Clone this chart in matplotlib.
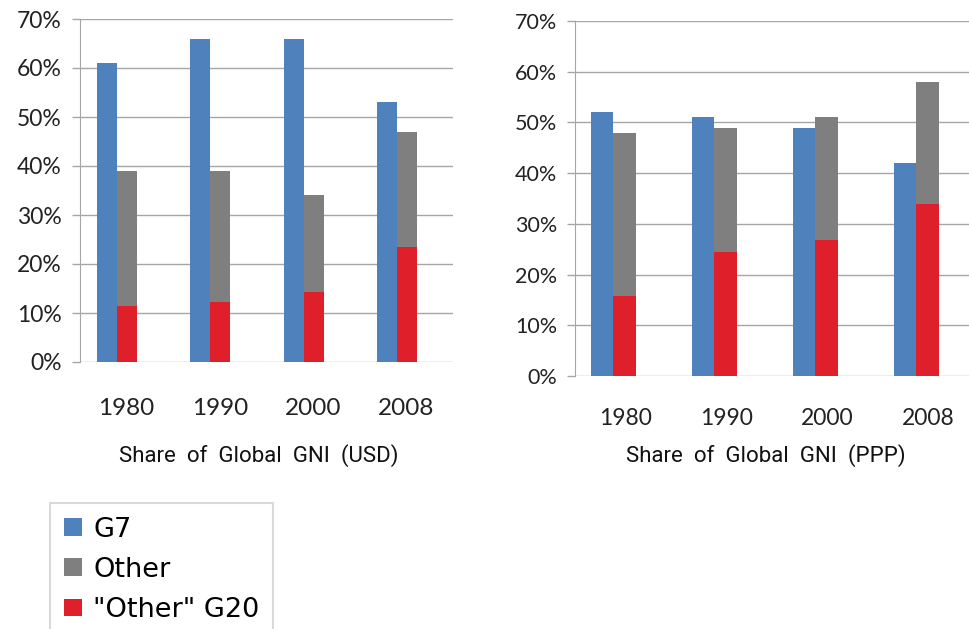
import numpy as np
import matplotlib.pyplot as plt
from matplotlib.ticker import PercentFormatter

years = ["1980", "1990", "2000", "2008"]
series_names = ["G7", "Other", "\"Other\" G20"]

usd_g7 = [61, 66, 66, 53]
usd_other = [39, 39, 34, 47]
usd_g20 = [11.4, 12.2, 14.2, 23.5]

ppp_g7 = [52, 51, 49, 42]
ppp_other = [48, 49, 51, 58]
ppp_g20 = [15.8, 24.5, 26.9, 33.9]

c_blue = "#4f81bd"
c_gray = "#7f7f7f"
c_red = "#df1f29"
grid_c = "#a6a6a6"

fig = plt.figure(figsize=(9.70, 6.29), dpi=100)
ax1 = fig.add_axes([80 / 970, 1 - 362 / 629, 373 / 970, 343 / 629])
ax2 = fig.add_axes([575 / 970, 1 - 376 / 629, 404 / 970, 355 / 629])


def draw(ax, g7, other, g20, off, w, xmax, yfs, xfs, pad):
    x = np.arange(len(years))
    b1 = ax.bar(x + off, g7, w, align="edge", color=c_blue, zorder=3)
    b2 = ax.bar(x + off + w, other, w, align="edge", color=c_gray, zorder=3)
    b3 = ax.bar(x + off + w, g20, w, align="edge", color=c_red, zorder=4)
    ax.set_xlim(0, xmax)
    ax.set_ylim(0, 70)
    ax.set_yticks(np.arange(0, 71, 10))
    ax.yaxis.set_major_formatter(PercentFormatter(decimals=0))
    ax.set_xticks(x + 0.5)
    ax.set_xticklabels(years, family="Lato", fontsize=xfs, color="#222222")
    ax.tick_params(axis="x", length=0, pad=pad)
    ax.tick_params(axis="y", length=6, width=1, color=grid_c, pad=7,
                   labelsize=yfs, labelcolor="#222222")
    for t in ax.get_yticklabels():
        t.set_family("Lato")
    ax.grid(axis="y", color=grid_c, linewidth=1, zorder=0)
    for s in ["top", "right", "bottom"]:
        ax.spines[s].set_visible(False)
    ax.spines["left"].set_color(grid_c)
    return b1, b2, b3


bars = draw(ax1, usd_g7, usd_other, usd_g20, 0.183, 0.215, 4.0, 16.5, 17.5, 26)
draw(ax2, ppp_g7, ppp_other, ppp_g20, 0.158, 0.222, 4.0, 15.5, 16.5, 23)

fig.text(259 / 970, 1 - 456 / 629, "Share  of  Global  GNI  (USD)",
         family="Roboto", fontsize=16, ha="center", va="center", color="#111111")
fig.text(766 / 970, 1 - 456 / 629, "Share  of  Global  GNI  (PPP)",
         family="Roboto", fontsize=16, ha="center", va="center", color="#111111")

leg = fig.legend(bars, series_names, loc="upper left",
                 bbox_to_anchor=(50 / 970, 1 - 503 / 629),
                 prop={"family": "DejaVu Sans", "size": 19.5},
                 frameon=True, fancybox=False, handlelength=0.7, handleheight=0.6,
                 handletextpad=0.4, labelspacing=0.52, borderpad=0.5,
                 borderaxespad=0)
leg.get_frame().set_edgecolor("#d0d0d0")
leg.get_frame().set_linewidth(1.5)

fig.savefig("out.png", dpi=100)
